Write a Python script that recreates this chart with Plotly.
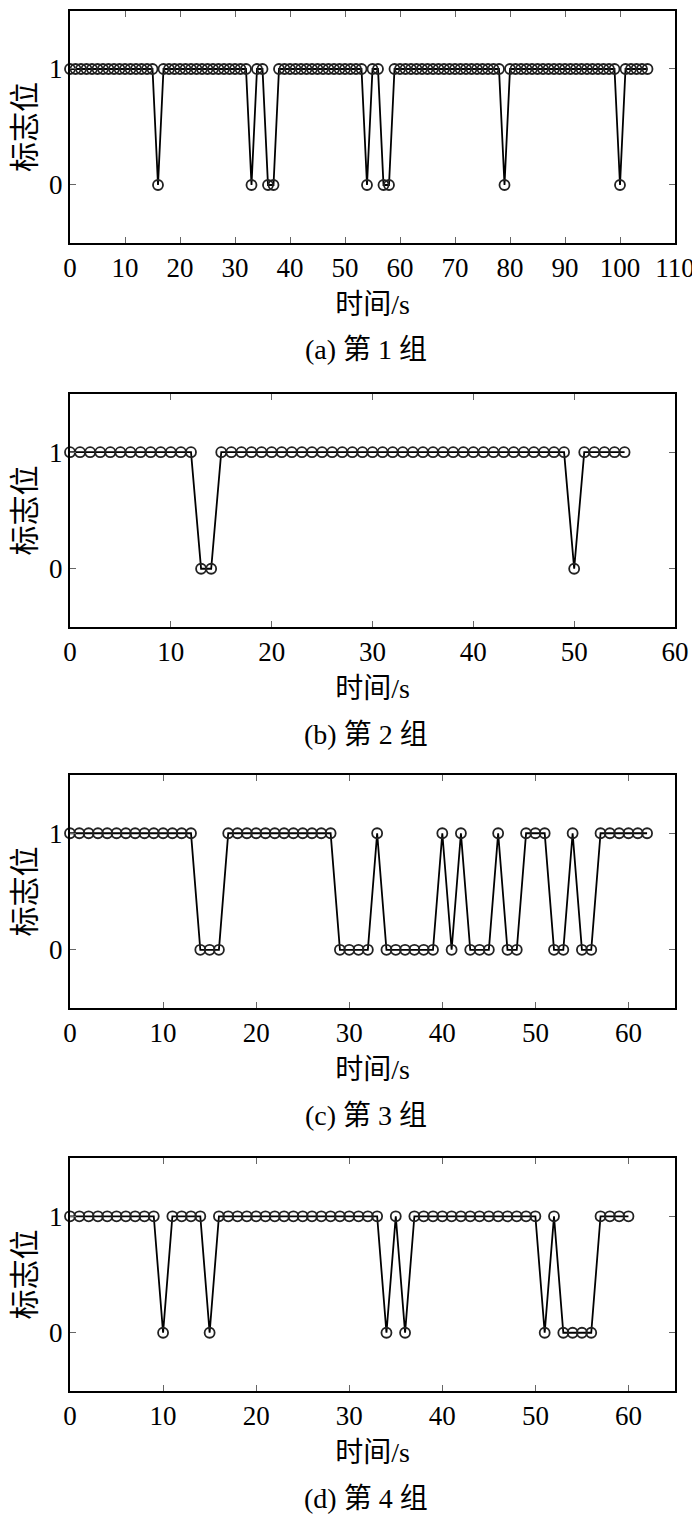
import plotly.graph_objects as go

# flag values, one sample per second
flags_a = [1, 1, 1, 1, 1, 1, 1, 1, 1, 1,
           1, 1, 1, 1, 1, 1, 0, 1, 1, 1,
           1, 1, 1, 1, 1, 1, 1, 1, 1, 1,
           1, 1, 1, 0, 1, 1, 0, 0, 1, 1,
           1, 1, 1, 1, 1, 1, 1, 1, 1, 1,
           1, 1, 1, 1, 0, 1, 1, 0, 0, 1,
           1, 1, 1, 1, 1, 1, 1, 1, 1, 1,
           1, 1, 1, 1, 1, 1, 1, 1, 1, 0,
           1, 1, 1, 1, 1, 1, 1, 1, 1, 1,
           1, 1, 1, 1, 1, 1, 1, 1, 1, 1,
           0, 1, 1, 1, 1, 1]
flags_b = [1, 1, 1, 1, 1, 1, 1, 1, 1, 1,
           1, 1, 1, 0, 0, 1, 1, 1, 1, 1,
           1, 1, 1, 1, 1, 1, 1, 1, 1, 1,
           1, 1, 1, 1, 1, 1, 1, 1, 1, 1,
           1, 1, 1, 1, 1, 1, 1, 1, 1, 1,
           0, 1, 1, 1, 1, 1]
flags_c = [1, 1, 1, 1, 1, 1, 1, 1, 1, 1,
           1, 1, 1, 1, 0, 0, 0, 1, 1, 1,
           1, 1, 1, 1, 1, 1, 1, 1, 1, 0,
           0, 0, 0, 1, 0, 0, 0, 0, 0, 0,
           1, 0, 1, 0, 0, 0, 1, 0, 0, 1,
           1, 1, 0, 0, 1, 0, 0, 1, 1, 1,
           1, 1, 1]
flags_d = [1, 1, 1, 1, 1, 1, 1, 1, 1, 1,
           0, 1, 1, 1, 1, 0, 1, 1, 1, 1,
           1, 1, 1, 1, 1, 1, 1, 1, 1, 1,
           1, 1, 1, 1, 0, 1, 0, 1, 1, 1,
           1, 1, 1, 1, 1, 1, 1, 1, 1, 1,
           1, 0, 1, 0, 0, 0, 0, 1, 1, 1,
           1]

series = [flags_a, flags_b, flags_c, flags_d]
x_max = [110, 60, 65, 65]
captions = ["(a) 第 1 组", "(b) 第 2 组", "(c) 第 3 组", "(d) 第 4 组"]

y_label = "标志位"
x_label = "时间/s"

font_main = "Liberation Serif, Times New Roman, Noto Sans CJK SC, serif"

# panel domains (paper fractions), plot area 1380 px tall
domains = [(0.8319, 1.0), (0.5536, 0.7225), (0.2775, 0.4464), (0.0, 0.1688)]

fig = go.Figure()

for i, flags in enumerate(series):
    n = str(i + 1) if i else ""
    fig.add_trace(go.Scatter(
        x=list(range(len(flags))), y=flags,
        xaxis="x" + n, yaxis="y" + n,
        mode="lines+markers",
        line=dict(color="black", width=1.8),
        marker=dict(symbol="circle-open", size=10, color="#222",
                    line=dict(width=1.8)),
        showlegend=False,
        cliponaxis=False,
    ))

    axis_common = dict(
        showline=True, linecolor="black", linewidth=2, mirror="ticks",
        ticks="inside", ticklen=6, tickwidth=1, tickcolor="#666",
        showgrid=False, zeroline=False, automargin=False,
        tickfont=dict(family=font_main, size=27, color="black"),
    )
    fig.layout["xaxis" + n] = dict(
        axis_common, domain=[0, 1], anchor="y" + n,
        range=[0, x_max[i]], tickmode="linear", tick0=0, dtick=10,
        title=dict(text=x_label, standoff=12,
                   font=dict(family=font_main, size=28, color="black")),
    )
    fig.layout["yaxis" + n] = dict(
        axis_common, domain=list(domains[i]), anchor="x" + n,
        range=[-0.5, 1.5], tickvals=[0, 1], ticktext=["0", "1"],
        title=dict(text=y_label, standoff=14,
                   font=dict(family=font_main, size=30, color="black")),
    )

    fig.add_annotation(
        text=captions[i], xref="paper", yref="paper",
        x=0.49, y=domains[i][0], xanchor="center", yanchor="middle",
        yshift=-107, showarrow=False,
        font=dict(family=font_main, size=28, color="black"),
    )

# the page adds an 8 px body margin, so the figure is sized to fit inside it
fig.update_layout(
    width=692, height=1508,
    margin=dict(l=62, r=25, t=3, b=125),
    paper_bgcolor="white", plot_bgcolor="white",
)

fig.write_html("out.html")
